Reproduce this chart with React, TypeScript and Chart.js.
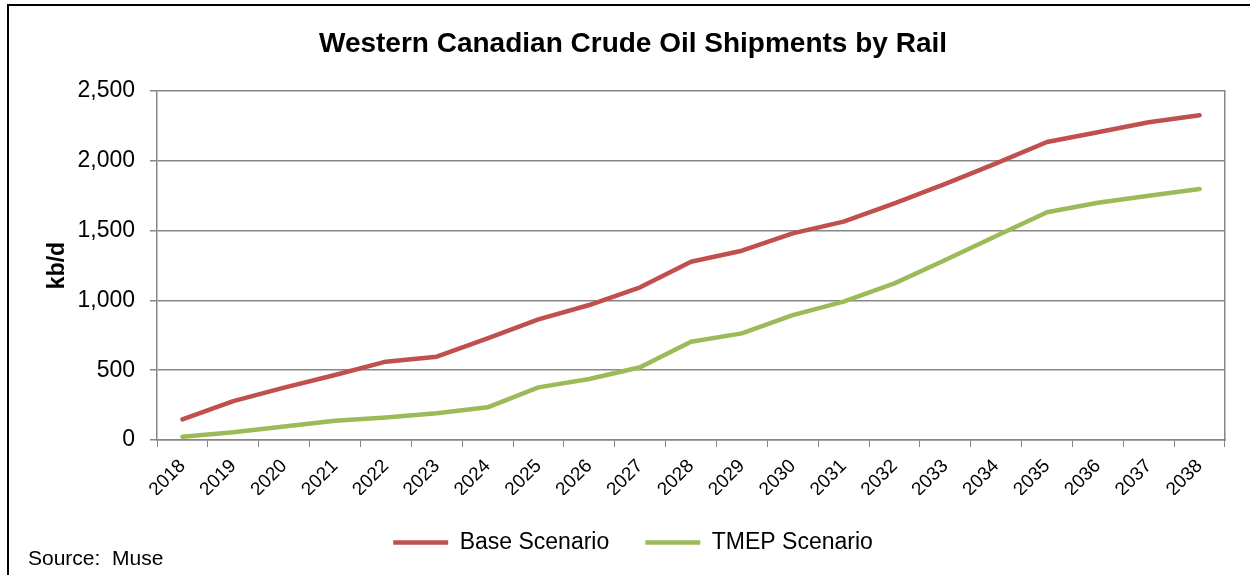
import React, { useEffect, useRef } from 'react';
import { Chart, registerables } from 'chart.js';

Chart.register(...registerables);

const chartTitle = 'Western Canadian Crude Oil Shipments by Rail';
const yAxisTitle = 'kb/d';
const sourceNote = 'Source:  Muse';

const years = [
  '2018', '2019', '2020', '2021', '2022', '2023', '2024', '2025', '2026', '2027', '2028',
  '2029', '2030', '2031', '2032', '2033', '2034', '2035', '2036', '2037', '2038',
];
const baseScenario = [
  148, 279, 375, 466, 561, 597, 728, 864, 967, 1094, 1277,
  1356, 1480, 1564, 1695, 1834, 1982, 2135, 2204, 2276, 2326,
];
const tmepScenario = [
  24, 55, 96, 138, 162, 191, 234, 377, 437, 521, 704,
  764, 895, 991, 1122, 1289, 1461, 1631, 1700, 1750, 1798,
];
const yTickValues = [0, 500, 1000, 1500, 2000, 2500];

const FONT = "'Liberation Sans', Arial, sans-serif";
const GRID = '#868686';
const RED = '#C0504D';
const GREEN = '#9BBB59';

export default function App() {
  const canvasRef = useRef<HTMLCanvasElement | null>(null);

  useEffect(() => {
    const canvas = canvasRef.current;
    if (!canvas) return;
    const fmt = new Intl.NumberFormat('en-US');
    const chart = new Chart(canvas, {
      type: 'line',
      data: {
        labels: years,
        datasets: [
          {
            label: 'Base Scenario',
            data: baseScenario,
            borderColor: RED,
            backgroundColor: RED,
            borderWidth: 4.5,
            borderCapStyle: 'round',
            borderJoinStyle: 'round',
            pointRadius: 0,
            pointHoverRadius: 0,
            tension: 0,
            fill: false,
          },
          {
            label: 'TMEP Scenario',
            data: tmepScenario,
            borderColor: GREEN,
            backgroundColor: GREEN,
            borderWidth: 4.5,
            borderCapStyle: 'round',
            borderJoinStyle: 'round',
            pointRadius: 0,
            pointHoverRadius: 0,
            tension: 0,
            fill: false,
          },
        ],
      },
      options: {
        responsive: false,
        animation: false,
        devicePixelRatio: 1,
        layout: { padding: { left: 0, right: 0, top: 0, bottom: 11 } },
        plugins: {
          tooltip: { enabled: false },
          title: {
            display: true,
            text: chartTitle,
            color: '#000',
            font: { family: FONT, size: 28, weight: 'bold' },
            padding: { top: 27, bottom: 30.4 },
          },
          legend: {
            display: true,
            position: 'bottom',
            labels: {
              color: '#000',
              font: { family: FONT, size: 23 },
              usePointStyle: true,
              pointStyle: 'line',
              pointStyleWidth: 55,
              padding: 36,
            },
          },
        },
        scales: {
          x: {
            type: 'category',
            offset: true,
            grid: {
              display: true,
              drawOnChartArea: false,
              drawTicks: true,
              tickLength: 7,
              offset: true,
              color: GRID,
              lineWidth: 1,
            },
            border: { display: true, color: GRID, width: 1.5 },
            ticks: {
              color: '#000',
              font: { family: FONT, size: 19 },
              minRotation: 45,
              maxRotation: 45,
              autoSkip: false,
              padding: 8,
            },
            afterFit: (s: any) => {
              s.height = 55;
            },
          },
          y: {
            type: 'linear',
            position: 'left',
            min: 0,
            max: 2500,
            afterBuildTicks: (s: any) => {
              s.ticks = yTickValues.map((v) => ({ value: v }));
            },
            grid: {
              display: true,
              drawOnChartArea: true,
              drawTicks: true,
              tickLength: 7,
              color: GRID,
              lineWidth: 1.5,
            },
            border: { display: true, color: GRID, width: 1.5 },
            ticks: {
              color: '#000',
              font: { family: FONT, size: 23 },
              padding: 15,
              callback: (v: any) => fmt.format(Number(v)),
            },
            title: {
              display: true,
              text: yAxisTitle,
              color: '#000',
              font: { family: FONT, size: 23, weight: 'bold' },
              padding: { top: 44, bottom: 0 },
            },
            afterFit: (s: any) => {
              s.width = 157;
            },
          },
          y2: {
            type: 'linear',
            position: 'right',
            display: true,
            min: 0,
            max: 2500,
            grid: { display: false, drawOnChartArea: false, drawTicks: false },
            ticks: { display: false },
            border: { display: true, color: GRID, width: 1.5 },
            afterFit: (s: any) => {
              s.width = 41;
            },
          },
        },
      },
    });
    return () => chart.destroy();
  }, []);

  return (
    <div
      style={{
        position: 'fixed',
        left: 0,
        top: 0,
        width: 1250,
        height: 575,
        overflow: 'hidden',
        background: '#fff',
      }}
    >
      <div
        style={{
          position: 'absolute',
          left: 7,
          top: 4,
          width: 1400,
          height: 800,
          border: '2px solid #000',
          boxSizing: 'border-box',
        }}
      />
      <canvas
        ref={canvasRef}
        width={1266}
        height={575}
        style={{ position: 'absolute', left: 0, top: 0, display: 'block' }}
      />
      <div
        style={{
          position: 'absolute',
          left: 28,
          top: 546,
          fontFamily: FONT,
          fontSize: 21,
          color: '#000',
          whiteSpace: 'pre',
        }}
      >
        {sourceNote}
      </div>
    </div>
  );
}
